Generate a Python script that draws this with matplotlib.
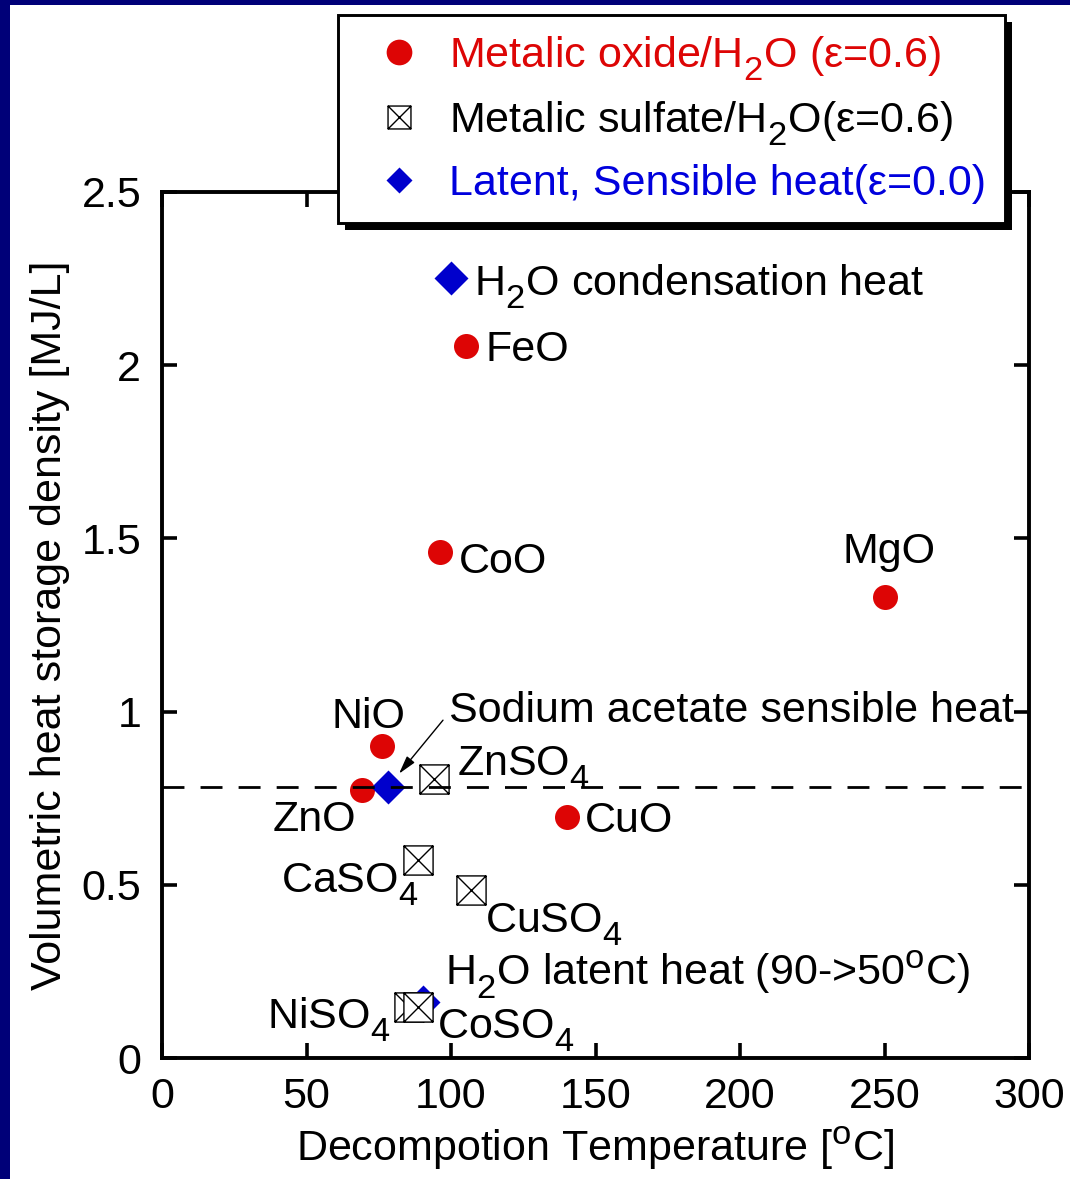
import matplotlib
matplotlib.use("Agg")
import matplotlib.pyplot as plt
import matplotlib._mathtext as mtext
from matplotlib.path import Path
from matplotlib.lines import Line2D
from matplotlib.patches import Rectangle

plt.rcParams["font.family"] = ["Liberation Sans", "DejaVu Sans"]
plt.rcParams["mathtext.fontset"] = "custom"
plt.rcParams["mathtext.rm"] = "Liberation Sans"
plt.rcParams["mathtext.it"] = "Liberation Sans:italic"
plt.rcParams["mathtext.bf"] = "Liberation Sans:bold"
# bigger, lower subscripts like the original slide
mtext.SHRINK_FACTOR = 0.8
mtext.FontConstantsBase.sub1 = 0.6

# data
oxide_names = ["FeO", "CoO", "MgO", "NiO", "ZnO", "CuO"]
oxide_temp = [105.2, 96.2, 250.2, 76.1, 69.2, 140.1]
oxide_dens = [2.055, 1.461, 1.331, 0.901, 0.774, 0.696]

sulfate_names = [r"ZnSO$\mathregular{_4}$", r"CaSO$\mathregular{_4}$", r"CuSO$\mathregular{_4}$",
                 r"NiSO$\mathregular{_4}$", r"CoSO$\mathregular{_4}$"]
sulfate_temp = [94.1, 88.6, 106.9, 85.5, 88.6]
sulfate_dens = [0.805, 0.572, 0.485, 0.147, 0.147]

heat_names = [r"H$\mathregular{_2}$O condensation heat",
              "Sodium acetate sensible heat",
              r"H$\mathregular{_2}$O latent heat (90->50$\mathregular{^o}$C)"]
heat_temp = [100.0, 78.2, 90.3]
heat_dens = [2.252, 0.782, 0.162]

sodium_acetate_level = 0.782

legend_labels = ["Metalic oxide/H$\\mathregular{_2}$O (ε=0.6)",
                 "Metalic sulfate/H$\\mathregular{_2}$O(ε=0.6)",
                 "Latent, Sensible heat(ε=0.0)"]

# label placement: (dx, dy) in points, horizontal alignment
oxide_offsets = [(13.7, -10.8, "left"), (13.7, -15.1, "left"), (2.9, 24.5, "center"),
                 (-10, 13, "center"), (-4.3, -29.5, "right"), (13, -10.8, "left")]
sulfate_offsets = [(16.6, 2.9, "left"), (0.7, -23, "right"), (10, -30.2, "left"),
                   (-13.7, -15.1, "right"), (13.7, -22.3, "left")]
heat_offsets = [(16.5, -12.2, "left"), (43.9, 46.8, "left"), (15.8, 12.2, "left")]

red = "#dd0505"
blue = "#0000cc"
fs = 31

# square with an X inside
sq_x = Path([(-1, -1), (1, -1), (1, 1), (-1, 1), (-1, -1), (-1, -1), (1, 1), (-1, 1), (1, -1)],
            [Path.MOVETO, Path.LINETO, Path.LINETO, Path.LINETO, Path.CLOSEPOLY,
             Path.MOVETO, Path.LINETO, Path.MOVETO, Path.LINETO])

fig = plt.figure(figsize=(10.7, 11.79), dpi=100)
ax = fig.add_axes([162 / 1070, 1 - 1058 / 1179, 867 / 1070, 866 / 1179])

ax.plot(oxide_temp, oxide_dens, "o", color=red, ms=18, mec="none", zorder=3)
ax.plot(heat_temp, heat_dens, "D", color=blue, ms=17, mec="none", zorder=4)
ax.plot(sulfate_temp, sulfate_dens, ls="none", marker=sq_x, ms=21, mfc="white",
        mec="black", mew=1.0, zorder=5)
ax.axhline(sodium_acetate_level, color="black", lw=2, dashes=(7.9, 5.8), zorder=6)

for name, x, y, (dx, dy, ha) in zip(oxide_names, oxide_temp, oxide_dens, oxide_offsets):
    ax.annotate(name, (x, y), xytext=(dx, dy), textcoords="offset points",
                ha=ha, va="baseline", fontsize=fs, zorder=7)
for name, x, y, (dx, dy, ha) in zip(sulfate_names, sulfate_temp, sulfate_dens, sulfate_offsets):
    ax.annotate(name, (x, y), xytext=(dx, dy), textcoords="offset points",
                ha=ha, va="baseline", fontsize=fs, zorder=7)
for name, x, y, (dx, dy, ha) in zip(heat_names, heat_temp, heat_dens, heat_offsets):
    ax.annotate(name, (x, y), xytext=(dx, dy), textcoords="offset points",
                ha=ha, va="baseline", fontsize=fs, zorder=7)

# arrow to the sodium acetate point
ax.annotate("", (heat_temp[1], heat_dens[1]), xytext=(39.6, 48.2), textcoords="offset points",
            arrowprops=dict(arrowstyle="-|>,head_length=1.1,head_width=0.3", color="black",
                            lw=1.0, shrinkA=0, shrinkB=12.5), zorder=7)

ax.set_xlim(0, 300)
ax.set_ylim(0, 2.5)
ax.set_xticks([0, 50, 100, 150, 200, 250, 300])
ax.set_yticks([0, 0.5, 1, 1.5, 2, 2.5])
ax.set_yticklabels(["0", "0.5", "1", "1.5", "2", "2.5"])
ax.tick_params(direction="in", length=11, width=2.6, top=True, right=True, labelsize=fs)
ax.tick_params(axis="y", pad=15)
ax.tick_params(axis="x", pad=14)
for sp in ax.spines.values():
    sp.set_linewidth(2.8)

ax.set_xlabel(r"Decompotion Temperature [$\mathregular{^o}$C]", fontsize=fs, labelpad=5)
ax.set_ylabel("Volumetric heat storage density [MJ/L]", fontsize=fs, labelpad=8)

handles = [
    Line2D([], [], ls="none", marker="o", color=red, ms=18.5, mec="none"),
    Line2D([], [], ls="none", marker=sq_x, ms=16.5, mfc="white", mec="black", mew=1.0),
    Line2D([], [], ls="none", marker="D", color=blue, ms=13.5, mec="none"),
]
leg = fig.legend(handles, legend_labels, loc="upper left",
                 bbox_to_anchor=(338 / 1070, 1 - 15 / 1179),
                 bbox_transform=fig.transFigure, fontsize=fs, frameon=True, fancybox=False,
                 framealpha=1, edgecolor="black", borderpad=0.45, handlelength=1.93,
                 handletextpad=0.19, labelspacing=0.37, borderaxespad=0,
                 labelcolor=[red, "black", "#0000dd"])
leg.get_frame().set_linewidth(2.1)
leg.set_zorder(10)

# black drop shadow behind the legend
fig.canvas.draw()
bb = leg.get_window_extent()
fw, fh = fig.bbox.width, fig.bbox.height
fig.patches.append(Rectangle(((bb.x0 + 7) / fw, (bb.y0 - 7) / fh), bb.width / fw, bb.height / fh,
                             transform=fig.transFigure, facecolor="black", edgecolor="none",
                             zorder=9))

# slide border strips
fig.patches.append(Rectangle((0, 0), 10 / 1070, 1, transform=fig.transFigure,
                             facecolor="#000078", edgecolor="none", zorder=9))
fig.patches.append(Rectangle((0, 1 - 5 / 1179), 1, 5 / 1179, transform=fig.transFigure,
                             facecolor="#000078", edgecolor="none", zorder=9))

fig.savefig("out.png", dpi=100)
